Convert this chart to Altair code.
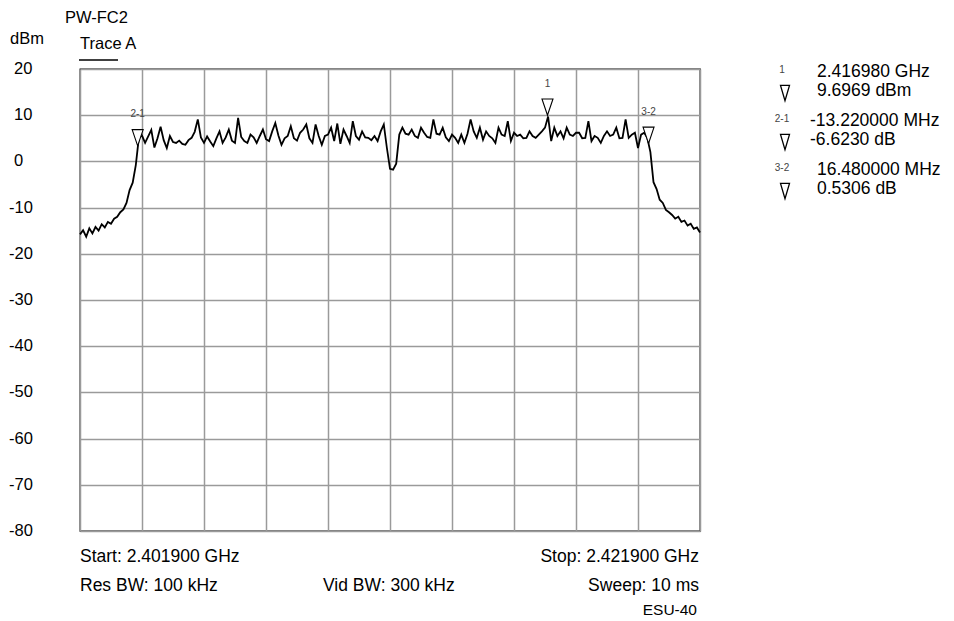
import altair as alt
import numpy as np
import pandas as pd

# ---------------- data ----------------
START_GHZ = 2.4019
STOP_GHZ = 2.4219

trace_dbm = [
    -15.8, -14.9, -16.3, -14.5, -15.6, -14.2, -15.0, -13.6, -14.3, -13.1,
    -13.5, -12.4, -12.0, -11.0, -10.4, -9.0, -6.2, -4.6, -0.8, 5.2,
    5.6, 4.0, 5.4, 6.8, 3.0, 5.0, 7.5, 4.6, 2.9, 5.5,
    4.2, 4.0, 4.5, 3.8, 3.6, 4.6, 5.1, 6.4, 9.1, 5.2,
    4.0, 5.4, 4.3, 3.3, 5.0, 6.5, 4.0, 5.2, 6.9, 4.5,
    4.0, 9.4, 5.3, 4.4, 4.0, 5.8, 5.2, 4.0, 5.5, 6.9,
    4.8, 4.4, 6.5, 8.3, 5.6, 3.6, 5.0, 5.5, 7.6, 5.0,
    4.5, 6.2, 6.9, 8.0, 5.0, 4.0, 8.0, 5.5, 3.6, 5.5,
    5.8, 7.3, 4.4, 8.2, 3.8, 6.9, 5.5, 4.0, 8.7, 5.5,
    4.7, 6.5, 5.2, 5.1, 4.6, 5.5, 4.4, 6.5, 8.0, 2.9,
    -1.6, -1.8, -0.5, 5.8, 7.3, 6.0, 5.8, 6.9, 5.5, 5.1,
    7.3, 6.2, 5.3, 5.1, 9.1, 6.0, 5.8, 7.3, 5.2, 4.4,
    5.8, 5.1, 4.0, 5.8, 4.0, 6.0, 9.1, 6.5, 5.1, 7.3,
    4.7, 6.5, 5.5, 5.0, 4.0, 7.3, 5.8, 5.5, 8.7, 4.4,
    6.2, 5.5, 5.8, 5.0, 5.1, 6.5, 5.5, 5.1, 5.8, 6.5,
    7.3, 9.7, 4.4, 7.3, 5.5, 6.5, 5.0, 7.3, 5.8, 5.5,
    6.2, 6.2, 5.0, 5.1, 8.7, 4.4, 5.5, 5.1, 4.0, 5.5,
    6.5, 5.5, 5.8, 7.3, 5.0, 5.1, 9.1, 5.1, 5.8, 6.2,
    2.9, 5.8, 6.2, 5.1, 2.0, -4.5, -6.0, -8.3, -9.0, -10.5,
    -11.0, -11.6, -12.4, -12.0, -13.1, -12.8, -13.9, -13.5, -14.6, -14.3,
    -15.4,
]

# marker readouts (marker 1 absolute, others delta)
marker_names = ["1", "2-1", "3-2"]
m1_freq_ghz = 2.416980
m1_level_dbm = 9.6969
delta_mhz = [-13.220000, 16.480000]
delta_db = [-6.6230, 0.5306]
readout_freq = ["2.416980 GHz", "-13.220000 MHz", "16.480000 MHz"]
readout_level = ["9.6969 dBm", "-6.6230 dB", "0.5306 dB"]

y_ticks = [20, 10, 0, -10, -20, -30, -40, -50, -60, -70, -80]
x_grid_ghz = [2.4019, 2.4039, 2.4059, 2.4079, 2.4099, 2.4119,
              2.4139, 2.4159, 2.4179, 2.4199, 2.4219]

title_text = "PW-FC2"
trace_text = "Trace A"
unit_text = "dBm"
footer_left = ["Start: 2.401900 GHz", "Res BW: 100 kHz"]
footer_mid = ["Vid BW: 300 kHz"]
footer_right = ["Stop: 2.421900 GHz", "Sweep: 10 ms"]
footer_model = ["ESU-40"]

# ---------------- tables ----------------
trace_df = pd.DataFrame({
    "f": np.linspace(START_GHZ, STOP_GHZ, len(trace_dbm)),
    "v": trace_dbm,
})

m_freq = [m1_freq_ghz]
m_level = [m1_level_dbm]
for dm, dl in zip(delta_mhz, delta_db):
    m_freq.append(m_freq[-1] + dm / 1000.0)
    m_level.append(m_level[-1] + dl)
marker_df = pd.DataFrame({"f": m_freq, "v": m_level, "name": marker_names})

ylab_df = pd.DataFrame({"v": y_ticks, "t": [str(t) for t in y_ticks]})

FONT = "Liberation Sans"
FS = 17.5
GRID = "#9a9a9a"

xenc = alt.X("f:Q", scale=alt.Scale(domain=[START_GHZ, STOP_GHZ], nice=False, zero=False),
             axis=alt.Axis(values=x_grid_ghz, grid=True, labels=False, ticks=False,
                           domain=False, title=None))
yenc = alt.Y("v:Q", scale=alt.Scale(domain=[-80, 20], nice=False, zero=False),
             axis=alt.Axis(values=y_ticks, grid=True, labels=False, ticks=False,
                           domain=False, title=None))

line = alt.Chart(trace_df).mark_line(color="black", strokeWidth=1.8).encode(x=xenc, y=yenc)

tri_down_tip = "M -0.5 -1.6 L 0.5 -1.6 L 0 -0.12 Z"
markers = alt.Chart(marker_df).mark_point(
    shape=tri_down_tip, size=484, filled=True, fill="white", stroke="black",
    strokeWidth=1.1, opacity=1
).encode(x=xenc, y=yenc)

marker_labels = alt.Chart(marker_df).mark_text(
    dy=-33, fontSize=10, font=FONT, color="#444444"
).encode(x=xenc, y=yenc, text="name:N")

ylab_pos = alt.Chart(ylab_df).transform_filter("datum.v >= 0").mark_text(
    align="left", baseline="middle", fontSize=16.5, font=FONT, color="black"
).encode(x=alt.value(-66), y=yenc, text="t:N")
ylab_neg = alt.Chart(ylab_df).transform_filter("datum.v < 0").mark_text(
    align="left", baseline="middle", fontSize=16.5, font=FONT, color="black"
).encode(x=alt.value(-71), y=yenc, text="t:N")


def label(texts, xs, ys, align="left", size=FS, color="black"):
    layers = []
    for i, t in enumerate(texts):
        layers.append(
            alt.Chart(pd.DataFrame({"t": [t]})).mark_text(
                align=align, baseline="middle", fontSize=size, font=FONT, color=color
            ).encode(x=alt.value(xs[i]), y=alt.value(ys[i]), text="t:N")
        )
    return layers


texts = []
texts += label([title_text], [-15], [-51], size=16.5)
texts += label([trace_text], [0], [-25], size=16.5)
texts += label([unit_text], [-70], [-30], size=16.5)
texts += label(footer_left, [0, 0], [488, 517])
texts += label(footer_mid, [243], [517])
texts += label(footer_right, [619, 619], [488, 517], align="right")
texts += label(footer_model, [617], [541], align="right", size=15.5)

underline = alt.Chart(pd.DataFrame({"a": [0]})).mark_rule(
    color="black", strokeWidth=1.5
).encode(x=alt.value(-1), x2=alt.value(38), y=alt.value(-9))

# right-hand marker readout block
tri_center = "M -0.5 -0.85 L 0.5 -0.85 L 0 0.85 Z"
readout_layers = []
row_y0, row_step = 3, 49
for i, name in enumerate(marker_names):
    y0 = row_y0 + i * row_step
    fx = 730 if readout_freq[i].startswith("-") else 737
    lx = 730 if readout_level[i].startswith("-") else 737
    readout_layers += label([name], [702], [y0 - 2], align="center", size=10, color="#444444")
    readout_layers += label([readout_freq[i]], [fx], [y0])
    readout_layers += label([readout_level[i]], [lx], [y0 + 19])
    readout_layers.append(
        alt.Chart(pd.DataFrame({"a": [0]})).mark_point(
            shape=tri_center, size=324, filled=True, fill="white", stroke="black",
            strokeWidth=1.3, opacity=1
        ).encode(x=alt.value(705), y=alt.value(y0 + 21))
    )

chart = alt.layer(
    line, markers, marker_labels, ylab_pos, ylab_neg, underline, *texts, *readout_layers
).properties(
    width=620, height=462,
    padding={"left": 72, "top": 61, "right": 246, "bottom": 88},
    autosize=alt.AutoSizeParams(type="none"),
).configure_axis(
    gridColor=GRID, gridWidth=1.5, gridOpacity=1
).configure_view(
    stroke="black", strokeWidth=1.3
)

chart.save("out.html", embed_options={"renderer": "svg", "actions": False})
